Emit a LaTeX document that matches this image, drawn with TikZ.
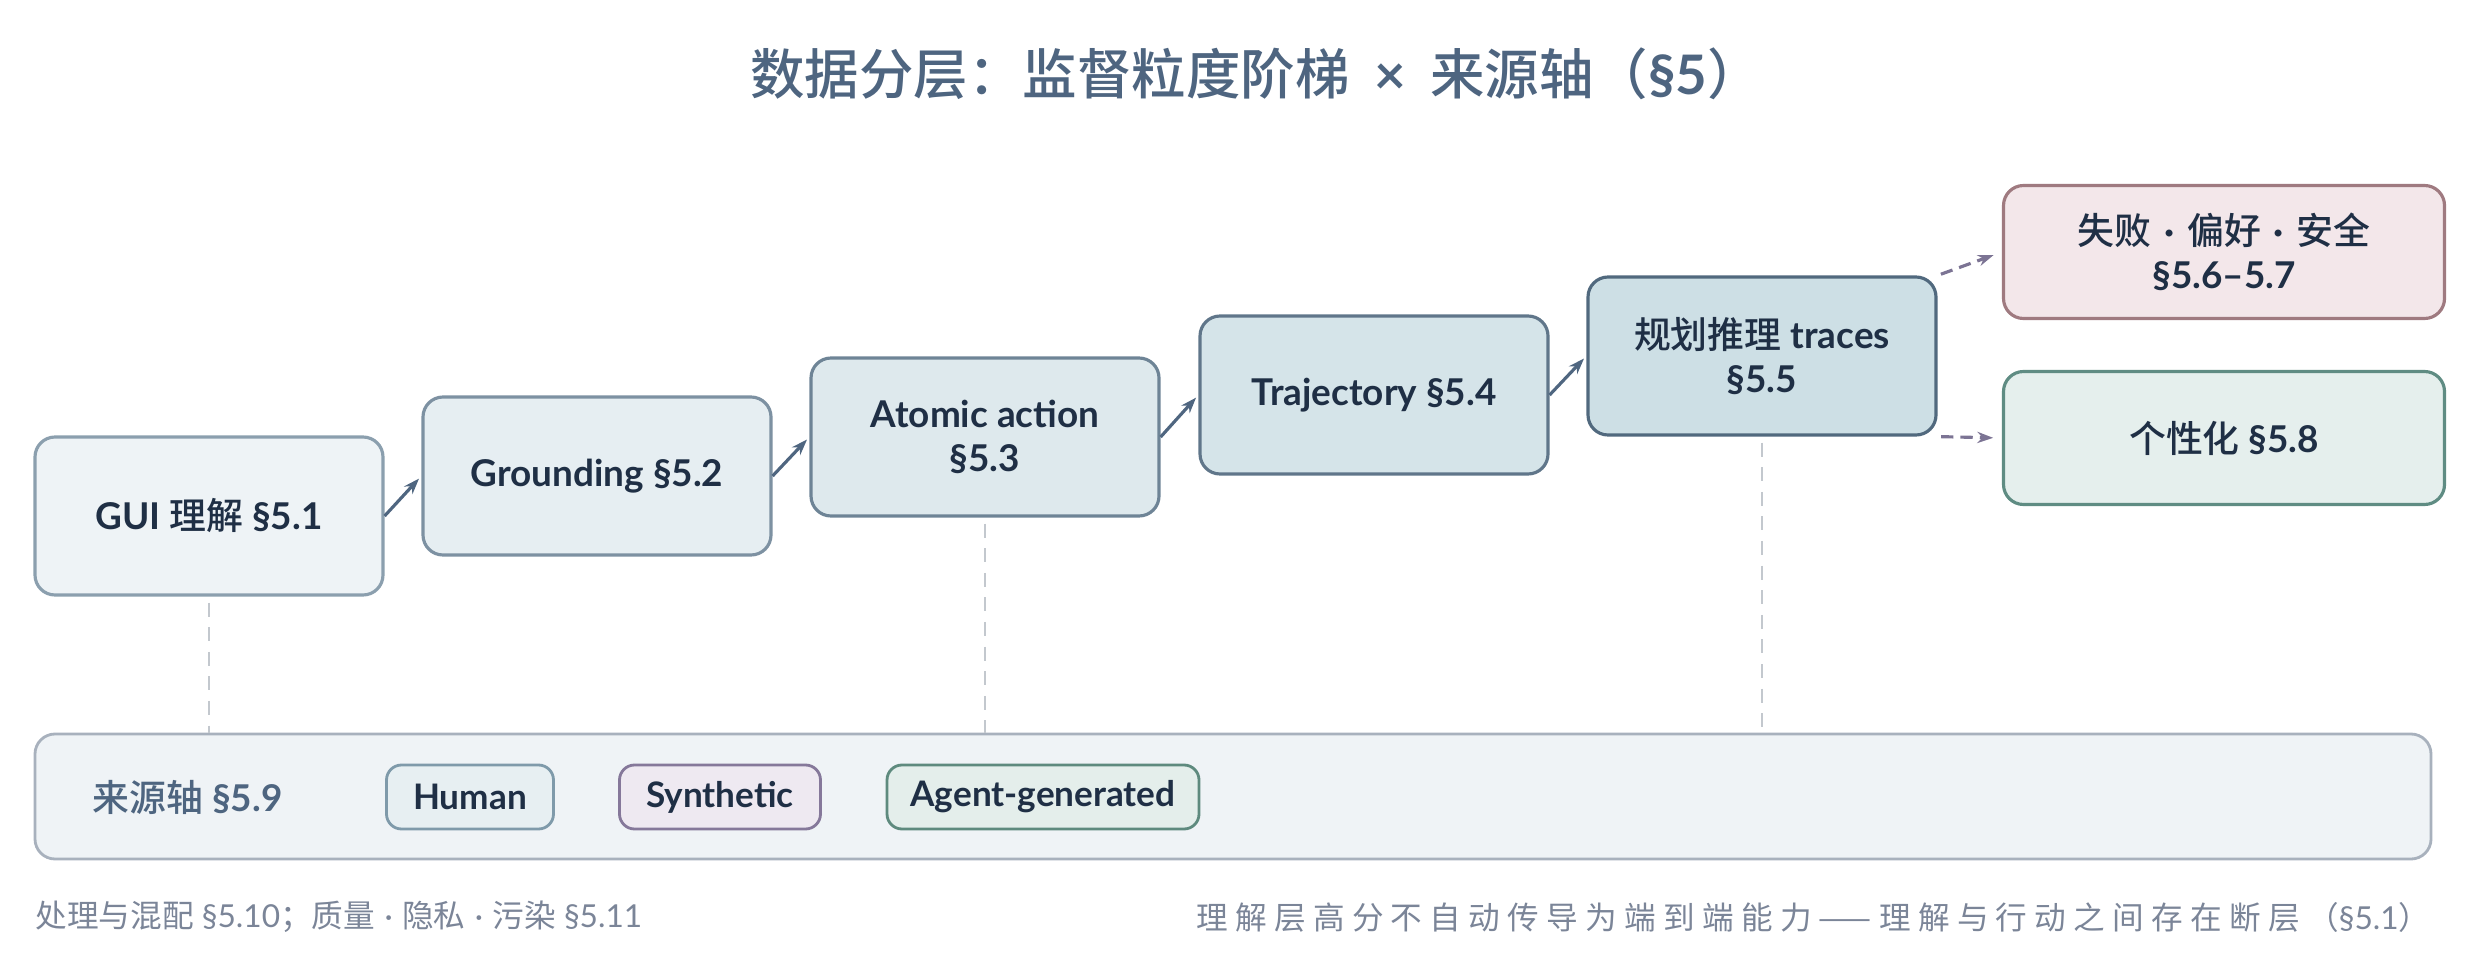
\documentclass[tikz,border=0pt]{standalone}
\usepackage{fontspec}
\setmainfont{Lato}
\newfontfamily\cjkfont{Noto Sans CJK SC}[BoldFont={Noto Sans CJK SC Medium}]
\newfontfamily\cjkwide{Noto Sans CJK SC}[LetterSpace=23]
\usepackage{tikz}
\usetikzlibrary{arrows.meta}

\newcommand\zh[1]{{\cjkfont #1}}

\definecolor{inkdark}{HTML}{1F2F45}
\definecolor{inkslate}{HTML}{4E6580}
\definecolor{inkgray}{HTML}{7B8598}
\definecolor{tierfillA}{HTML}{EEF3F6}
\definecolor{tierfillB}{HTML}{CDDFE5}
\definecolor{tierdrawA}{HTML}{8B9FAE}
\definecolor{tierdrawB}{HTML}{51697E}
\definecolor{failfill}{HTML}{F3E7EA}
\definecolor{faildraw}{HTML}{9F7A80}
\definecolor{persfill}{HTML}{E5EFED}
\definecolor{persdraw}{HTML}{5F8C83}
\definecolor{panelfill}{HTML}{EFF3F6}
\definecolor{paneldraw}{HTML}{A8B1BD}
\definecolor{humanfill}{HTML}{E7EFF2}
\definecolor{humandraw}{HTML}{7F9AAA}
\definecolor{synthfill}{HTML}{EEE9F1}
\definecolor{synthdraw}{HTML}{85789A}
\definecolor{agentfill}{HTML}{E4EEEB}
\definecolor{agentdraw}{HTML}{5E8A7E}
\definecolor{arrowink}{HTML}{4F6680}
\definecolor{dashink}{HTML}{7C7494}
\definecolor{guideink}{HTML}{C3C8CE}

\tikzset{
	tier/.style={draw=tierdrawB!#1!tierdrawA, fill=tierfillB!#1!tierfillA, rounded corners=0.2cm, line width=0.9pt,
		minimum width=3.48cm, minimum height=1.58cm, align=center, text=inkdark,
		font=\bfseries\fontsize{10.5}{12.6}\selectfont},
	branch/.style={rounded corners=0.2cm, line width=0.9pt, minimum width=4.41cm, minimum height=1.33cm,
		align=center, text=inkdark, font=\bfseries\fontsize{10.5}{12.6}\selectfont},
	chip/.style={rounded corners=0.15cm, line width=0.8pt, minimum height=0.64cm, text=inkdark,
		font=\bfseries\fontsize{10}{12}\selectfont},
	note/.style={inner sep=0pt, text=inkgray, font=\fontsize{9}{11}\selectfont},
	flow/.style={-{Stealth[length=4.5pt,width=3.2pt]}, arrowink, line width=0.9pt, shorten >=1pt},
	dflow/.style={-{Stealth[length=4.5pt,width=3.2pt]}, dashink, line width=0.9pt, dash pattern=on 3.5pt off 2pt,
		shorten <=1pt, shorten >=2.5pt},
	guide/.style={guideink, line width=0.6pt, dash pattern=on 4pt off 3pt, shorten <=0.06cm}
}

\begin{document}
\begin{tikzpicture}
\useasboundingbox (0,0) rectangle (24.8,9.69);

\node[text=inkslate, font=\bfseries\fontsize{15.5}{18}\selectfont] (title) at (12.56,8.95)
	{\zh{数据分层：监督粒度阶梯}\hspace{0.45em}×\hspace{0.45em}\zh{来源轴（}§5\zh{）}};

% supervision ladder
\node[tier=0] (gui) at (2.09,4.53) {GUI \zh{理解} §5.1};
\node[tier=25] (grounding) at (5.97,4.93) {Grounding §5.2};
\node[tier=50] (atomic) at (9.85,5.32) {Atomic action\\§5.3};
\node[tier=75] (traj) at (13.74,5.74) {Trajectory §5.4};
\node[tier=100] (plan) at (17.62,6.13) {\zh{规划推理} traces\\§5.5};

\node[branch, fill=failfill, draw=faildraw] (fail) at (22.24,7.17)
	{\zh{失败}\hspace{0.35em}·\hspace{0.35em}\zh{偏好}\hspace{0.35em}·\hspace{0.35em}\zh{安全}\\§5.6–5.7};
\node[branch, fill=persfill, draw=persdraw] (pers) at (22.24,5.31) {\zh{个性化} §5.8};

% source axis
\node[draw=paneldraw, fill=panelfill, rounded corners=0.2cm, line width=0.8pt,
	minimum width=23.96cm, minimum height=1.25cm] (source) at (12.33,1.725) {};
\node[anchor=west, inner sep=0pt, text=inkslate, font=\bfseries\fontsize{10.5}{12.6}\selectfont] (sourcelabel) at (0.92,1.72) {\zh{来源轴} §5.9};
\node[chip, fill=humanfill, draw=humandraw, minimum width=1.67cm] (human) at (4.70,1.72) {Human};
\node[chip, fill=synthfill, draw=synthdraw, minimum width=2.01cm] (synthetic) at (7.20,1.72) {Synthetic};
\node[chip, fill=agentfill, draw=agentdraw, minimum width=3.12cm] (agent) at (10.43,1.72) {Agent-generated};

\path[flow]
(gui.east) edge (grounding.west)
(grounding.east) edge (atomic.west)
(atomic.east) edge (traj.west)
(traj.east) edge (plan.west)
;
\path[dflow]
(plan.north east) edge (fail.west)
(plan.south east) edge (pers.west)
;

\draw[guide] (gui.south) -- (gui.south |- source.north);
\draw[guide] (atomic.south) -- (atomic.south |- source.north);
\draw[guide] (plan.south) -- (plan.south |- source.north);

% notes
\node[note, anchor=west] (notemix) at (0.35,0.52)
	{\zh{处理与混配} §5.10\zh{；质量}\hspace{0.3em}·\hspace{0.3em}\zh{隐私}\hspace{0.3em}·\hspace{0.3em}\zh{污染} §5.11};
\node[note, anchor=east] (notegap) at (24.31,0.52)
	{{\cjkwide 理解层高分不自动传导为端到端能力——理解与行动之间存在断层（}§5.1{\cjkwide ）}};
\end{tikzpicture}
\end{document}
